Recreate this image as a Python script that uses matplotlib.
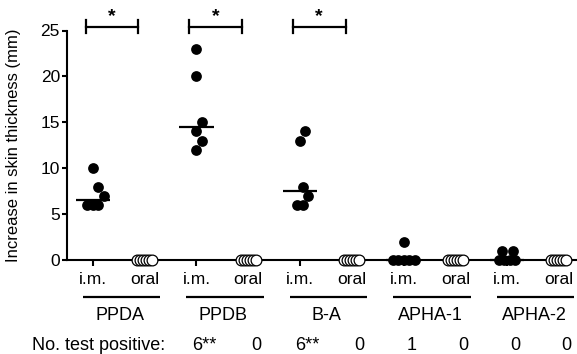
import numpy as np
import matplotlib
matplotlib.use("Agg")
import matplotlib.pyplot as plt
from matplotlib.transforms import blended_transform_factory

plt.rcParams['font.family'] = ['Liberation Sans', 'DejaVu Sans']

# ---------------- data ----------------
groups = ["PPDA", "PPDB", "B-A", "APHA-1", "APHA-2"]
routes = ["i.m.", "oral"]

im_ppda = [10, 8, 7, 6, 6, 6]
im_ppdb = [23, 20, 15, 14, 13, 12]
im_ba = [14, 13, 8, 7, 6, 6]
im_apha1 = [2, 0, 0, 0, 0, 0]
im_apha2 = [1, 1, 0, 0, 0, 0]

oral_ppda = [0, 0, 0, 0, 0, 0]
oral_ppdb = [0, 0, 0, 0, 0, 0]
oral_ba = [0, 0, 0, 0, 0, 0]
oral_apha1 = [0, 0, 0, 0, 0, 0]
oral_apha2 = [0, 0, 0, 0, 0, 0]

im_values = [im_ppda, im_ppdb, im_ba, im_apha1, im_apha2]
oral_values = [oral_ppda, oral_ppdb, oral_ba, oral_apha1, oral_apha2]

significant_groups = ["PPDA", "PPDB", "B-A"]
sig_label = "*"

count_label = "No. test positive:"
# counts for PPDB i.m., PPDB oral, B-A i.m., B-A oral, APHA-1 i.m., APHA-1 oral, APHA-2 i.m., APHA-2 oral
count_texts = ["6**", "0", "6**", "0", "1", "0", "0", "0"]
count_start_category = 2

y_ticks = [0, 5, 10, 15, 20, 25]
y_label = "Increase in skin thickness (mm)"

# ---------------- figure ----------------
W, H = 577, 354
fig = plt.figure(figsize=(W / 100, H / 100), dpi=100)
ax = fig.add_axes([67 / W, (H - 260) / H, (W - 67) / W, 229.5 / H])
ax.set_xlim(-0.5, 9.35)
ax.set_ylim(0, 25)

px_per_x = (W - 67) / (9.35 + 0.5)


def swarm(vals, step_px, gap=1.5):
    """Simple dot-plot layout: ties spread symmetrically, near neighbours nudged sideways."""
    v = np.asarray(vals, dtype=float)
    uniq = np.unique(v)
    xs, ys = [], []
    prev = None  # (value, offsets)
    for u in uniq:
        c = int(np.sum(v == u))
        near = prev is not None and (u - prev[0]) < gap
        if c == 1:
            if not near:
                offs = [0.0]
            elif np.mean(prev[1]) <= 0:
                offs = [max(prev[1]) + step_px]
            else:
                offs = [min(prev[1]) - step_px]
        else:
            sp = step_px * (2.0 if near else 1.0)
            offs = list((np.arange(c) - (c - 1) / 2) * sp)
        xs += offs
        ys += [u] * c
        prev = (u, offs)
    return np.array(xs) / px_per_x, np.array(ys)


msize = 60
for gi, g in enumerate(groups):
    x_im = 2 * gi
    x_or = 2 * gi + 1
    dx, yv = swarm(im_values[gi], 5.5)
    ax.scatter(x_im + dx, yv, s=msize, color="black", zorder=3, clip_on=False, linewidths=0)
    dx, yv = swarm(oral_values[gi], 3.0)
    ax.scatter(x_or + dx, yv, s=msize, facecolor="white", edgecolor="black",
               linewidths=0.9, zorder=3, clip_on=False)
    med = np.median(im_values[gi])
    ax.plot([x_im - 0.33, x_im + 0.33], [med, med], color="black", lw=1.6,
            zorder=4, clip_on=False, solid_capstyle="butt")

# significance brackets
for g in significant_groups:
    gi = groups.index(g)
    x0, x1 = 2 * gi - 0.14, 2 * gi + 1 - 0.12
    yb = 25.4
    ax.plot([x0, x1], [yb, yb], color="black", lw=1.6, clip_on=False)
    ax.plot([x0, x0], [yb - 0.7, yb + 0.7], color="black", lw=1.6, clip_on=False)
    ax.plot([x1, x1], [yb - 0.7, yb + 0.7], color="black", lw=1.6, clip_on=False)
    ax.text((x0 + x1) / 2, yb + 0.15, sig_label, ha="center", va="bottom",
            fontsize=14, fontweight="bold", clip_on=False)

# axes styling
for side in ["top", "right"]:
    ax.spines[side].set_visible(False)
ax.spines["left"].set_linewidth(1.5)
ax.spines["bottom"].set_linewidth(1.5)
ax.spines["left"].set_bounds(0, 25)
ax.set_yticks(y_ticks)
ax.set_xticks(range(2 * len(groups)))
ax.set_xticklabels(routes * len(groups))
ax.tick_params(axis="y", direction="out", length=3.6, width=1.5, labelsize=12.5, pad=1.5)
ax.tick_params(axis="x", direction="out", length=4.5, width=1.5, labelsize=12.5, pad=4.5)
ax.set_ylabel(y_label, fontsize=12)
ax.yaxis.set_label_coords((21 - 67) / (W - 67), 0.5)

trans = blended_transform_factory(ax.transData, fig.transFigure)
# group underlines and names
for gi, g in enumerate(groups):
    c = 2 * gi + 0.55
    ax.plot([c - 0.75, c + 0.75], [1 - 297 / H] * 2, color="black", lw=1.6,
            transform=trans, clip_on=False, solid_capstyle="butt")
    ax.text(2 * gi + 0.52, 1 - 316 / H, g, transform=trans, ha="center",
            va="center", fontsize=13)

# counts row
fig.text(32 / W, 1 - 345 / H, count_label, ha="left", va="center", fontsize=13)
for k, t in enumerate(count_texts):
    ax.text(count_start_category + k + 0.15, 1 - 345 / H, t, transform=trans,
            ha="center", va="center", fontsize=13)

fig.savefig("out.png", dpi=100)
